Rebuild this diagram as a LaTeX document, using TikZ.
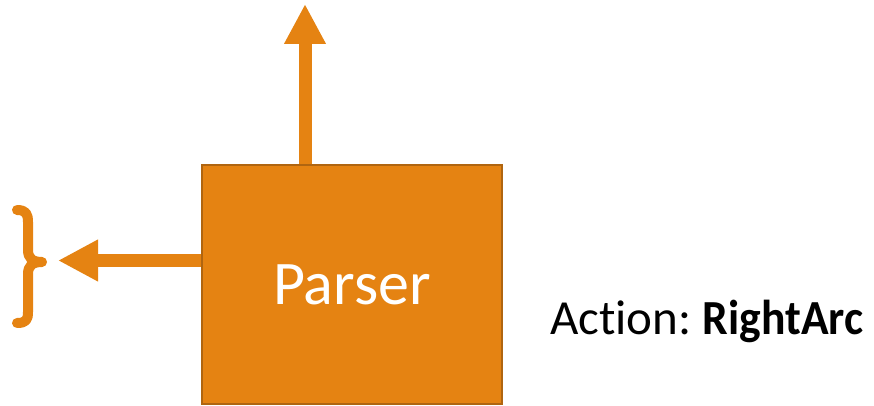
\documentclass[tikz,border=0pt]{standalone}
\usepackage{fontspec}
\setmainfont{Carlito}[Ligatures=NoCommon]
\usepackage{xcolor}
\usetikzlibrary{arrows.meta}
\definecolor{parserfill}{RGB}{229,131,18}
\definecolor{parserline}{RGB}{176,101,16}
\frenchspacing

\begin{document}
\begin{tikzpicture}[x=1pt,y=-1pt,
  box/.style={draw=parserline,fill=parserfill,line width=2pt,minimum width=300pt,minimum height=239pt,text=white,font=\fontsize{62}{70}\selectfont},
  thickarrow/.style={draw=parserfill,line width=13pt,-{Triangle[width=39pt,length=40pt]}}]
\useasboundingbox (0,0) rectangle (874,406);
\node[box] (parser) at (352,284.5) {Parser};
\coordinate (up) at (305,4);
\coordinate (left) at (58,260.5);
\draw [thickarrow] (parser.north -| up) -- (up);
\draw [thickarrow] (parser.west |- left) -- (left);
% brace on the left
\draw [parserfill,line width=10pt,line cap=round,line join=round] (17,210) .. controls (26,210) and (28,214) .. (28,222) -- (28,250) .. controls (28,258) and (32,262) .. (42,262) .. controls (32,262) and (28,266) .. (28,274) -- (28,312) .. controls (28,320) and (26,323) .. (17,323);
\node [anchor=base west,inner sep=0pt,font=\fontsize{49}{60}\selectfont] (action) at (550,334) {Action: \scalebox{0.93}[1]{\textbf{RightArc}}};
\end{tikzpicture}
\end{document}
